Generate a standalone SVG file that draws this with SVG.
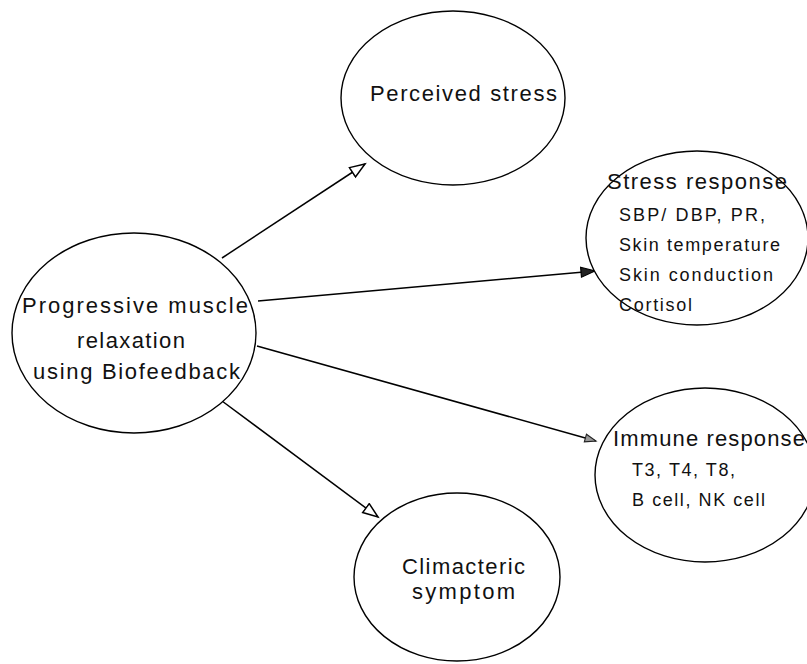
<svg xmlns="http://www.w3.org/2000/svg" width="807" height="664" viewBox="0 0 807 664">
<style>
.node ellipse{fill:#fff;stroke:#000;stroke-width:1.4}
text{font-family:"Liberation Sans",Arial,sans-serif;fill:#111}
.t{font-size:22px}
.s{font-size:18px}
.edge{stroke:#000;stroke-width:1.5;fill:none}
</style>
<defs>
<marker id="open" markerUnits="userSpaceOnUse" markerWidth="20" markerHeight="16" refX="16" refY="6.5" orient="auto">
<path d="M1,1 L16,6.5 L1,12 Z" fill="#fff" stroke="#000" stroke-width="1.5"/>
</marker>
<marker id="dark" markerUnits="userSpaceOnUse" markerWidth="20" markerHeight="16" refX="15" refY="6" orient="auto">
<path d="M1,1 L15,6 L1,11 Z" fill="#222" stroke="#000" stroke-width="1.2"/>
</marker>
<marker id="grey" markerUnits="userSpaceOnUse" markerWidth="16" markerHeight="14" refX="12" refY="5" orient="auto">
<path d="M1,1 L12,5 L1,9 Z" fill="#999" stroke="#222" stroke-width="1.1"/>
</marker>
</defs>
<rect width="807" height="664" fill="#fff"/>
<g id="connectors">
<line class="edge" x1="222" y1="258" x2="365" y2="164" marker-end="url(#open)"/>
<line class="edge" x1="258" y1="301" x2="595" y2="271" marker-end="url(#dark)"/>
<line class="edge" x1="257" y1="346" x2="596" y2="441" marker-end="url(#grey)"/>
<line class="edge" x1="222" y1="401" x2="378" y2="517" marker-end="url(#open)"/>
</g>
<g id="pmr" class="node">
<ellipse cx="134" cy="333" rx="122" ry="100"/>
<text class="t" x="22" y="313" textLength="226" lengthAdjust="spacing">Progressive muscle</text>
<text class="t" x="77" y="348" textLength="108" lengthAdjust="spacing">relaxation</text>
<text class="t" x="33" y="379" textLength="207" lengthAdjust="spacing">using Biofeedback</text>
</g>
<g id="perceived" class="node">
<ellipse cx="453" cy="98" rx="112" ry="87"/>
<text class="t" x="370" y="101" textLength="187" lengthAdjust="spacing">Perceived stress</text>
</g>
<g id="stress" class="node">
<ellipse cx="697" cy="238" rx="111" ry="87"/>
<text class="t" x="607" y="189" textLength="180" lengthAdjust="spacing">Stress response</text>
<text class="s" x="619" y="221" textLength="146" lengthAdjust="spacing">SBP/ DBP, PR,</text>
<text class="s" x="619" y="251" textLength="161" lengthAdjust="spacing">Skin temperature</text>
<text class="s" x="619" y="281" textLength="154" lengthAdjust="spacing">Skin conduction</text>
<text class="s" x="619" y="311" textLength="73" lengthAdjust="spacing">Cortisol</text>
</g>
<g id="immune" class="node">
<ellipse cx="705" cy="475" rx="110" ry="87"/>
<text class="t" x="613" y="446" textLength="192" lengthAdjust="spacing">Immune response</text>
<text class="s" x="632" y="476" textLength="103" lengthAdjust="spacing">T3, T4, T8,</text>
<text class="s" x="632" y="506" textLength="133" lengthAdjust="spacing">B cell, NK cell</text>
</g>
<g id="climacteric" class="node">
<ellipse cx="457" cy="577" rx="103" ry="84"/>
<text class="t" x="402" y="574" textLength="123" lengthAdjust="spacing">Climacteric</text>
<text class="t" x="412" y="599" textLength="103" lengthAdjust="spacing">symptom</text>
</g>
</svg>
